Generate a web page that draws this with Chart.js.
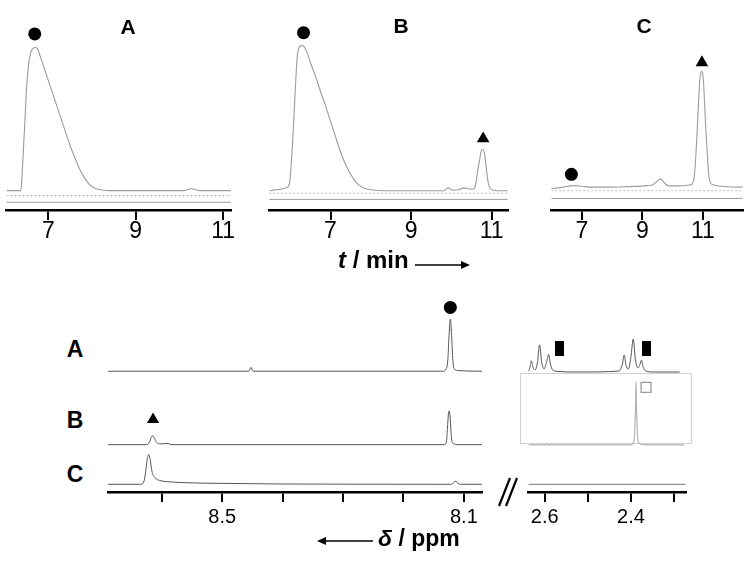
<!DOCTYPE html>
<html>
<head>
<meta charset="utf-8">
<script src="https://cdn.jsdelivr.net/npm/chart.js@4.4.1/dist/chart.umd.min.js"></script>
<style>
  body { margin: 0; background: #fff; width: 750px; height: 563px; position: relative; overflow: hidden; font-family: Arial, "Liberation Sans", sans-serif; }
  canvas { position: absolute; }
  .lbl { position: absolute; font-weight: bold; line-height: 1; white-space: nowrap; color: #000; }
  .c { transform: translateX(-50%); }
  #grayBox { position: absolute; left: 520px; top: 373px; width: 172px; height: 71px; box-sizing: border-box; border: 1px solid #d2d2d2; }
  svg { position: absolute; left: 0; top: 0; }
</style>
</head>
<body>
<canvas id="chromA" width="241" height="240" style="left:0;top:10px"></canvas>
<canvas id="chromB" width="253" height="240" style="left:262px;top:10px"></canvas>
<canvas id="chromC" width="206" height="240" style="left:544px;top:10px"></canvas>
<div id="grayBox"></div>
<canvas id="nmrL" width="388" height="252" style="left:101px;top:285px"></canvas>
<canvas id="nmrR" width="174" height="252" style="left:520px;top:285px"></canvas>

<div class="lbl c" style="left:128px;top:15.5px;font-size:21px">A</div>
<div class="lbl c" style="left:401px;top:15px;font-size:21px">B</div>
<div class="lbl c" style="left:644px;top:14.5px;font-size:21px">C</div>
<div class="lbl c" style="left:75px;top:337.5px;font-size:23px">A</div>
<div class="lbl c" style="left:75px;top:408.5px;font-size:23px">B</div>
<div class="lbl c" style="left:75px;top:462.5px;font-size:23px">C</div>
<div class="lbl" style="left:338px;top:247.7px;font-size:24px"><i>t</i> / min</div>
<div class="lbl" style="left:378px;top:526.5px;font-size:23px"><i>δ</i> / ppm</div>

<svg width="750" height="563">
  <line x1="415" y1="265" x2="463" y2="265" stroke="#000" stroke-width="1.6"/>
  <polygon points="461,261 470,265 461,269" fill="#000"/>
  <line x1="324" y1="541" x2="373" y2="541" stroke="#000" stroke-width="1.6"/>
  <polygon points="326,537 317,541 326,545" fill="#000"/>
  <line x1="499" y1="506" x2="510" y2="478" stroke="#000" stroke-width="2.2"/>
  <line x1="506" y1="506" x2="517" y2="478" stroke="#000" stroke-width="2.2"/>
</svg>

<script>
// ---- HPLC traces: [t / min, signal above baseline]
const chromTicks = [7, 9, 11];
const chromTickLabels = ['7', '9', '11'];

const chromA = [[6.05,0],[6.37,0],[6.393,10],[6.428,40],[6.466,73],[6.504,107],[6.548,130],[6.6,143],[6.651,147],[6.695,148],[6.748,147],[6.822,138],[6.933,123],[7.044,108],[7.155,93],[7.266,78],[7.377,63],[7.488,48],[7.6,35],[7.71,23],[7.82,14],[7.93,7],[8.04,3],[8.19,1],[8.415,0],[10.09,0],[10.27,2],[10.49,0],[11.18,0]];
const chromB = [[5.49,0],[5.667,1],[5.901,3],[5.979,7],[6.018,24],[6.058,50],[6.096,80],[6.135,113],[6.175,140],[6.213,148],[6.292,151],[6.369,148],[6.446,140],[6.526,130],[6.643,117],[6.76,102],[6.877,88],[6.993,73],[7.11,58],[7.227,43],[7.344,30],[7.461,20],[7.578,12],[7.695,6],[7.85,2.5],[8.006,1],[8.318,0],[9.567,0],[9.8,0],[9.918,3],[10.035,0.5],[10.19,1],[10.306,3],[10.502,1.5],[10.58,3],[10.619,10],[10.658,22],[10.696,30],[10.735,40],[10.78,43],[10.83,37],[10.87,23],[10.91,10],[10.97,2],[11.13,0],[11.4,0]];
const chromC = [[5.97,0],[6.375,1.7],[6.683,3.3],[6.99,2.7],[7.3,1.7],[8.22,1.9],[9.145,3.3],[9.35,4.3],[9.452,6.7],[9.534,9],[9.606,10],[9.677,8.3],[9.76,5],[9.862,3],[10.17,3],[10.58,4],[10.683,6.7],[10.733,18],[10.776,38],[10.816,62],[10.857,88],[10.9,112],[10.93,120],[10.96,122],[10.99,120],[11.02,112],[11.06,88],[11.1,62],[11.145,38],[11.185,18],[11.246,6.7],[11.35,4],[11.71,2.4],[12.23,1.7],[12.32,1.7]];

const circlesA = [[6.69,162]];
const circlesB = [[6.33,164]];
const trianglesB = [[10.79,54]];
const circlesC = [[6.65,15]];
const trianglesC = [[10.97,131]];

// ---- 1H NMR: [delta / ppm, intensity]
const nmrLeftTicks = [8.6, 8.5, 8.4, 8.3, 8.2, 8.1];
const nmrLeftLabels = ['', '8.5', '', '', '', '8.1'];
const nmrRightTicks = [2.6, 2.5, 2.4, 2.3];
const nmrRightLabels = ['2.6', '', '2.4', ''];

const nmrA_left = [[8.689,0],[8.456,0],[8.4526,4],[8.449,0],[8.1346,0],[8.1293,2.3],[8.1267,10.7],[8.1245,37],[8.1224,54],[8.1203,37],[8.1182,10.7],[8.1155,2.3],[8.1107,0.7],[8.07,0]];
const nmrB_left = [[8.689,0],[8.6245,0],[8.6203,2.7],[8.6176,7.3],[8.6149,9.3],[8.6122,6.7],[8.6085,2.3],[8.6032,0.7],[8.5899,1.3],[8.5845,0],[8.132,0],[8.1288,3.3],[8.1272,16.7],[8.1256,31.7],[8.1245,35],[8.1229,30],[8.1213,13.3],[8.1197,3.3],[8.116,0.7],[8.1107,0],[8.07,0]];
const nmrC_left = [[8.689,0],[8.6351,0],[8.6299,2.3],[8.6272,10.7],[8.6245,24],[8.6218,30.7],[8.6192,25.7],[8.6165,14],[8.6112,6.7],[8.6032,4],[8.5899,2.7],[8.5633,1.7],[8.51,1],[8.4035,0.3],[8.1212,0],[8.116,2.3],[8.1133,3.3],[8.1107,1.3],[8.1054,0],[8.07,0]];

const nmrA_right = [[2.6461,0],[2.6377,1],[2.6342,5],[2.6308,11.7],[2.6273,5],[2.6224,2.3],[2.6168,10],[2.6119,28.3],[2.607,10],[2.6014,3.3],[2.5958,10],[2.5909,18.3],[2.5867,8.3],[2.5818,2.3],[2.5713,0.7],[2.526,0],[2.4281,1],[2.4197,8.3],[2.4155,17.7],[2.4113,6.7],[2.4057,3.3],[2.4002,15],[2.3946,34.3],[2.3897,13.3],[2.3841,4.3],[2.3799,6.7],[2.3757,12.3],[2.3715,5],[2.3652,1],[2.3442,0],[2.287,0]];
const nmrB_right = [[2.6377,0],[2.599,0],[2.596,1.3],[2.592,0],[2.4,0],[2.3946,2],[2.3918,9.3],[2.3897,36],[2.3883,66],[2.3869,36],[2.3848,9.3],[2.3813,2],[2.3722,0.3],[2.2765,0]];
const nmrC_right = [[2.638,0],[2.273,0]];

const nmrCircles = [[8.1224,66]];
const nmrTriangles = [[8.6144,26]];
const nmrFilledRects = [[2.5654,25],[2.3631,25]];
const nmrOpenRects = [[2.365,60]];

const pts = arr => arr.map(p => ({ x: p[0], y: p[1] }));

const tickText = {
  id: 'tickText',
  afterDraw(chart, args, opts) {
    const sc = chart.scales.x;
    const ctx = chart.ctx;
    ctx.save();
    ctx.font = opts.font;
    ctx.fillStyle = '#000';
    ctx.textAlign = 'center';
    ctx.textBaseline = 'alphabetic';
    opts.values.forEach((v, i) => {
      if (opts.labels[i]) ctx.fillText(opts.labels[i], sc.getPixelForValue(v), chart.chartArea.bottom + opts.dy);
    });
    ctx.restore();
  }
};

function xAxis(min, max, ticks, reverse) {
  return {
    type: 'linear', min: min, max: max, reverse: !!reverse,
    afterBuildTicks: s => { s.ticks = ticks.map(v => ({ value: v })); },
    ticks: { display: false },
    grid: { display: true, drawOnChartArea: false, drawTicks: true, tickLength: 10, color: '#000', lineWidth: 2 },
    border: { display: true, color: '#000', width: 2.5 }
  };
}

function line(data, color, width, yAxisID) {
  return { type: 'line', data: pts(data), borderColor: color, borderWidth: width, pointRadius: 0,
           cubicInterpolationMode: 'monotone', fill: false, yAxisID: yAxisID || 'y' };
}

function marks(data, style, radius, yAxisID, fillColor, edge) {
  return { type: 'scatter', data: pts(data), pointStyle: style, pointRadius: radius,
           pointBackgroundColor: fillColor || '#000', pointBorderColor: edge || '#000',
           pointBorderWidth: edge ? 1.3 : 0, showLine: false, yAxisID: yAxisID || 'y' };
}

const baseOpts = {
  responsive: false, animation: false, events: [],
  plugins: { legend: { display: false }, tooltip: { enabled: false } }
};

function chromChart(id, trace, extra, xMin, xMax, yMin, ruler, padRight) {
  const rulerSets = [
    { type: 'line', data: [{ x: xMin, y: ruler[0] }, { x: xMax, y: ruler[0] }], borderColor: '#b8b8b8', borderWidth: 1, borderDash: [2, 2], pointRadius: 0 },
    { type: 'line', data: [{ x: xMin, y: ruler[1] }, { x: xMax, y: ruler[1] }], borderColor: '#9a9a9a', borderWidth: 1, pointRadius: 0 }
  ];
  new Chart(document.getElementById(id), {
    type: 'line',
    data: { datasets: [line(trace, '#9c9c9c', 1.1)].concat(rulerSets, extra) },
    options: Object.assign({}, baseOpts, {
      layout: { padding: { top: 0, left: 0, right: padRight, bottom: 30 } },
      scales: { x: xAxis(xMin, xMax, chromTicks), y: { display: false, min: yMin, max: yMin + 200 } },
      plugins: Object.assign({}, baseOpts.plugins, {
        tickText: { values: chromTicks, labels: chromTickLabels, font: '23px Arial, "Liberation Sans", sans-serif', dy: 28 }
      })
    }),
    plugins: [tickText]
  });
}

chromChart('chromA', chromA, [marks(circlesA, 'circle', 6.5)], 6.044, 11.18, -20, [-5, -12], 10);
chromChart('chromB', chromB, [marks(circlesB, 'circle', 6.5), marks(trianglesB, 'triangle', 7.3)], 5.48, 11.4, -20, [-2.5, -9], 0);
chromChart('chromC', chromC, [marks(circlesC, 'circle', 6.5), marks(trianglesC, 'triangle', 7.3)], 5.985, 12.32, -22, [-2, -10], 0);

// filled bar marker for the right NMR panel
const barMark = document.createElement('canvas');
barMark.width = 9; barMark.height = 15;
const bctx = barMark.getContext('2d');
bctx.fillStyle = '#000';
bctx.fillRect(0, 0, 9, 15);

const nmrY = {
  yA: { display: false, min: -125, max: 82 },
  yB: { display: false, min: -49, max: 158 },
  yC: { display: false, min: -8, max: 199 }
};

function nmrChart(id, datasets, xMin, xMax, ticks, labels) {
  new Chart(document.getElementById(id), {
    type: 'line',
    data: { datasets: datasets },
    options: Object.assign({}, baseOpts, {
      layout: { padding: { top: 0, left: 0, right: 0, bottom: 35 } },
      scales: Object.assign({ x: xAxis(xMin, xMax, ticks, true) }, nmrY),
      plugins: Object.assign({}, baseOpts.plugins, {
        tickText: { values: ticks, labels: labels, font: '20px Arial, "Liberation Sans", sans-serif', dy: 31 }
      })
    }),
    plugins: [tickText]
  });
}

nmrChart('nmrL', [
  line(nmrA_left, '#555', 1, 'yA'),
  line(nmrB_left, '#555', 1, 'yB'),
  line(nmrC_left, '#555', 1, 'yC'),
  marks(nmrCircles, 'circle', 6.5, 'yA'),
  marks(nmrTriangles, 'triangle', 7, 'yB')
], 8.07, 8.689, nmrLeftTicks, nmrLeftLabels);

nmrChart('nmrR', [
  line(nmrA_right, '#555', 1, 'yA'),
  line(nmrB_right, '#b4b4b4', 1.2, 'yB'),
  line(nmrC_right, '#777', 1, 'yC'),
  marks(nmrFilledRects, barMark, 7, 'yA'),
  marks(nmrOpenRects, 'rect', 7, 'yB', '#fff', '#999')
], 2.273, 2.638, nmrRightTicks, nmrRightLabels);
</script>
</body>
</html>
